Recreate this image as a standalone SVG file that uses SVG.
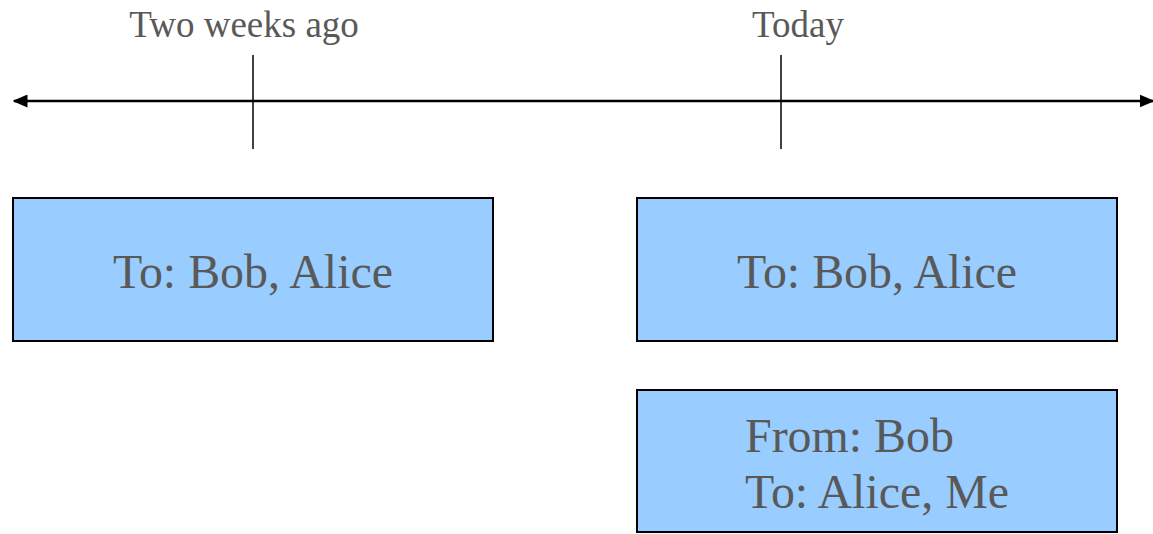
<svg xmlns="http://www.w3.org/2000/svg" width="1153" height="534" viewBox="0 0 1153 534">
<style>
.lbl{font-family:"Liberation Serif","Times New Roman",serif;fill:#595959}
.box{fill:#99ccff;stroke:#000;stroke-width:2}
.ln{stroke:#000;stroke-width:2.5;fill:none}
.tick{stroke:#000;stroke-width:1.5}
</style>
<defs>
<marker id="ah" viewBox="0 0 10 10" refX="9" refY="5" markerWidth="15" markerHeight="13" markerUnits="userSpaceOnUse" orient="auto-start-reverse" preserveAspectRatio="none">
<path d="M0,0 L10,5 L0,10 z" fill="#000"/>
</marker>
</defs>
<g id="connectors">
<line class="ln" x1="14" y1="101" x2="1153" y2="101" marker-start="url(#ah)" marker-end="url(#ah)"/>
<line class="tick" x1="253" y1="55" x2="253" y2="149"/>
<line class="tick" x1="781" y1="55" x2="781" y2="149"/>
</g>
<g id="label-two-weeks"><text class="lbl" x="244" y="37" font-size="37" text-anchor="middle">Two weeks ago</text></g>
<g id="label-today"><text class="lbl" x="798" y="37" font-size="37" text-anchor="middle">Today</text></g>
<g id="box1"><rect class="box" x="13" y="198" width="480" height="143"/><text class="lbl" x="253" y="288" font-size="47.9" text-anchor="middle">To: Bob, Alice</text></g>
<g id="box2"><rect class="box" x="637" y="198" width="480" height="143"/><text class="lbl" x="877" y="288" font-size="47.9" text-anchor="middle">To: Bob, Alice</text></g>
<g id="box3"><rect class="box" x="637" y="390" width="480" height="142"/><text class="lbl" x="745" y="452" font-size="47.9">From: Bob</text><text class="lbl" x="745" y="508" font-size="47.9">To: Alice, Me</text></g>
</svg>
